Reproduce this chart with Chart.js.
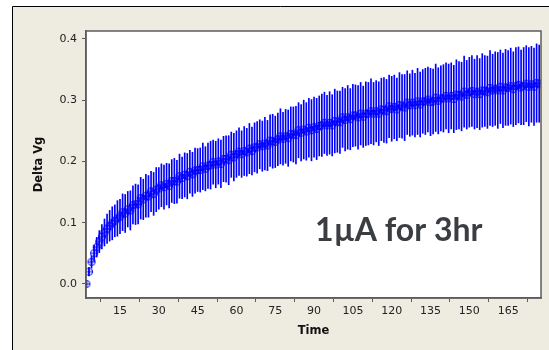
<!DOCTYPE html>
<html>
<head>
<meta charset="utf-8">
<script src="https://cdn.jsdelivr.net/npm/chart.js@4/dist/chart.umd.min.js"></script>
<style>
  html, body { margin: 0; padding: 0; background: #ffffff; }
  #wrap { position: relative; width: 549px; height: 350px; }
</style>
</head>
<body>
<div id="wrap"><canvas id="chartVg" width="549" height="350"></canvas></div>
<script>
// ── DATA ─────────────────────────────────────────────────────────
const times = [
  2, 3, 4, 5, 6, 7, 8, 9, 10, 11, 12, 13, 14, 15, 16, 17, 18, 19, 20,
  21, 22, 23, 24, 25, 26, 27, 28, 29, 30, 31, 32, 33, 34, 35, 36, 37, 38, 39, 40,
  41, 42, 43, 44, 45, 46, 47, 48, 49, 50, 51, 52, 53, 54, 55, 56, 57, 58, 59, 60,
  61, 62, 63, 64, 65, 66, 67, 68, 69, 70, 71, 72, 73, 74, 75, 76, 77, 78, 79, 80,
  81, 82, 83, 84, 85, 86, 87, 88, 89, 90, 91, 92, 93, 94, 95, 96, 97, 98, 99, 100,
  101, 102, 103, 104, 105, 106, 107, 108, 109, 110, 111, 112, 113, 114, 115, 116, 117, 118, 119, 120,
  121, 122, 123, 124, 125, 126, 127, 128, 129, 130, 131, 132, 133, 134, 135, 136, 137, 138, 139, 140,
  141, 142, 143, 144, 145, 146, 147, 148, 149, 150, 151, 152, 153, 154, 155, 156, 157, 158, 159, 160,
  161, 162, 163, 164, 165, 166, 167, 168, 169, 170, 171, 172, 173, 174, 175, 176, 177
];

// mean Delta Vg per minute
const meanVg = [
  0.000, 0.020, 0.036, 0.050,
  0.060, 0.069, 0.077, 0.084, 0.090,
  0.095, 0.099, 0.103, 0.107, 0.110,
  0.117, 0.115, 0.122, 0.120, 0.129,
  0.130, 0.130, 0.140, 0.138, 0.144, 0.143, 0.151, 0.147, 0.154, 0.156,
  0.161, 0.158, 0.163, 0.160, 0.168, 0.168, 0.167, 0.176, 0.173, 0.178, 0.176, 0.183, 0.179, 0.185, 0.186,
  0.186, 0.192, 0.188, 0.193, 0.194, 0.199, 0.195, 0.200, 0.196, 0.204, 0.204, 0.202, 0.211, 0.207, 0.212,
  0.216, 0.212, 0.217, 0.215, 0.221, 0.217, 0.223, 0.223, 0.228, 0.225, 0.229, 0.226, 0.234, 0.233, 0.232,
  0.236, 0.241, 0.237, 0.241, 0.238, 0.245, 0.244, 0.243, 0.251, 0.247, 0.252, 0.249, 0.255, 0.251, 0.256,
  0.253, 0.258, 0.259, 0.263, 0.259, 0.263, 0.259, 0.266, 0.265, 0.264, 0.272, 0.268, 0.272, 0.269, 0.275,
  0.275, 0.272, 0.278, 0.273, 0.278, 0.278, 0.282, 0.278, 0.282, 0.278, 0.285, 0.284, 0.282, 0.290, 0.286,
  0.289, 0.285, 0.292, 0.290, 0.288, 0.296, 0.292, 0.296, 0.292, 0.298, 0.293, 0.298, 0.298, 0.301, 0.297,
  0.298, 0.304, 0.299, 0.303, 0.303, 0.307, 0.303, 0.307, 0.302, 0.309, 0.308, 0.306, 0.314, 0.309, 0.313,
  0.315, 0.310, 0.314, 0.310, 0.316, 0.315, 0.313, 0.320, 0.316, 0.319, 0.316, 0.322, 0.316, 0.321, 0.320,
  0.323, 0.318, 0.323, 0.325, 0.321, 0.323, 0.327, 0.322, 0.326, 0.322, 0.328, 0.327
];

// half-width of the error bar per minute
const errVg = [
  0.004, 0.007, 0.010, 0.013,
  0.016, 0.018, 0.020, 0.022, 0.024,
  0.025, 0.027, 0.026, 0.029, 0.028,
  0.030, 0.031, 0.029, 0.032, 0.031,
  0.033, 0.032, 0.034, 0.033, 0.035, 0.034, 0.033, 0.035, 0.036, 0.034,
  0.035, 0.036, 0.034, 0.036, 0.035, 0.037, 0.035, 0.036, 0.034, 0.036, 0.037, 0.035, 0.036, 0.037, 0.035,
  0.036, 0.038, 0.036, 0.037, 0.039, 0.036, 0.038, 0.037, 0.039, 0.037, 0.038, 0.040, 0.037, 0.039, 0.038,
  0.039, 0.038, 0.040, 0.039, 0.041, 0.039, 0.040, 0.042, 0.040, 0.041, 0.043, 0.041, 0.042, 0.044, 0.042,
  0.043, 0.045, 0.043, 0.044, 0.046, 0.044, 0.045, 0.047, 0.045, 0.046, 0.048, 0.047, 0.048, 0.050, 0.049,
  0.050, 0.049, 0.051, 0.050, 0.049, 0.051, 0.050, 0.052, 0.050, 0.051, 0.049, 0.051, 0.052, 0.050, 0.051,
  0.050, 0.052, 0.051, 0.050, 0.052, 0.051, 0.053, 0.051, 0.050, 0.052, 0.051, 0.053, 0.052, 0.051, 0.053,
  0.052, 0.051, 0.053, 0.052, 0.054, 0.052, 0.051, 0.053, 0.052, 0.054, 0.053, 0.052, 0.054, 0.053, 0.055,
  0.053, 0.055, 0.054, 0.053, 0.055, 0.054, 0.056, 0.054, 0.055, 0.057, 0.055, 0.056, 0.058, 0.056, 0.057,
  0.058, 0.057, 0.059, 0.058, 0.060, 0.058, 0.059, 0.061, 0.059, 0.060, 0.062, 0.060, 0.061, 0.062, 0.061,
  0.062, 0.061, 0.063, 0.062, 0.061, 0.063, 0.062, 0.064, 0.062, 0.063, 0.064, 0.063
];

const xTicks = [15, 30, 45, 60, 75, 90, 105, 120, 135, 150, 165];
const yTicks = [0.0, 0.1, 0.2, 0.3, 0.4];

// ── STYLE ────────────────────────────────────────────────────────
const BLUE   = "#0000ff";
const FRAME  = "#eeebe1";
const AXIS   = "#5c5c5c";
const tickFont  = { family: "'DejaVu Sans', sans-serif", size: 11 };
const titleFont = { family: "'DejaVu Sans', sans-serif", size: 11.5, weight: "bold" };

// circle-with-plus marker (Minitab style)
const marker = document.createElement("canvas");
marker.width = 10; marker.height = 10;
(function () {
  const m = marker.getContext("2d");
  m.strokeStyle = BLUE;
  m.lineWidth = 1;
  m.beginPath(); m.arc(5, 5, 3.6, 0, Math.PI * 2); m.stroke();
  m.beginPath();
  m.moveTo(1, 5); m.lineTo(9, 5);
  m.moveTo(5, 1); m.lineTo(5, 9);
  m.stroke();
})();

const barData   = times.map((t, i) => ({ x: t, y: [meanVg[i] - errVg[i], meanVg[i] + errVg[i]] }));
const pointData = times.map((t, i) => ({ x: t, y: meanVg[i] }));

// background frame + plot rectangle + annotation
const framePlugin = {
  id: "frame",
  beforeDraw(chart) {
    const { ctx, width, height, chartArea: a } = chart;
    ctx.save();
    ctx.fillStyle = "#ffffff";
    ctx.fillRect(0, 0, width, height);
    ctx.fillStyle = FRAME;
    ctx.fillRect(12, 6, width - 12, height - 6);
    ctx.strokeStyle = "#000000";
    ctx.lineWidth = 1;
    ctx.beginPath();
    ctx.moveTo(12.5, height); ctx.lineTo(12.5, 6.5); ctx.lineTo(width, 6.5);
    ctx.stroke();
    ctx.fillStyle = "#ffffff";
    ctx.fillRect(a.left, a.top, a.right - a.left, a.bottom - a.top);
    ctx.restore();
  },
  afterDraw(chart) {
    const { ctx, chartArea: a, scales } = chart;
    ctx.save();
    ctx.strokeStyle = AXIS;
    ctx.lineWidth = 1.5;
    ctx.strokeRect(a.left, a.top, a.right - a.left, a.bottom - a.top);
    ctx.fillStyle = "#3a3d42";
    ctx.font = "bold 32px Lato, 'Open Sans', sans-serif";
    ctx.textBaseline = "alphabetic";
    ctx.fillText("1µA for 3hr", scales.x.getPixelForValue(90.4), scales.y.getPixelForValue(0.07));
    ctx.restore();
  },
};

new Chart(document.getElementById("chartVg"), {
  type: "bar",
  data: {
    datasets: [
      {
        type: "scatter",
        data: pointData,
        pointStyle: marker,
        pointRadius: 3.5,
        order: 0,
      },
      {
        type: "bar",
        data: barData,
        backgroundColor: BLUE,
        borderWidth: 0,
        barThickness: 1,
        grouped: false,
        order: 1,
      },
    ],
  },
  options: {
    responsive: false,
    animation: false,
    layout: { padding: { top: 31, right: 8, left: 0, bottom: 0 } },
    plugins: { legend: { display: false }, tooltip: { enabled: false } },
    scales: {
      x: {
        type: "linear",
        min: 1.86,
        max: 177.7,
        offset: false,
        afterFit: s => { s.height = 52; },
        afterBuildTicks: s => { s.ticks = xTicks.map(v => ({ value: v })); },
        grid: { drawOnChartArea: false, drawTicks: true, tickLength: 4, color: AXIS },
        border: { display: true, color: AXIS, width: 1.5 },
        ticks: { color: "#222", font: tickFont, padding: 3, maxRotation: 0, autoSkip: false },
        title: { display: true, text: "Time", color: "#111", font: titleFont, padding: { top: 0, bottom: 12 } },
      },
      y: {
        type: "linear",
        min: -0.023,
        max: 0.413,
        afterFit: s => { s.width = 86; },
        afterBuildTicks: s => { s.ticks = yTicks.map(v => ({ value: v })); },
        grid: { drawOnChartArea: false, drawTicks: true, tickLength: 4, color: AXIS },
        border: { display: true, color: AXIS, width: 1.5 },
        ticks: { color: "#222", font: tickFont, padding: 5, callback: v => v.toFixed(1) },
        title: { display: true, text: "Delta Vg", color: "#111", font: titleFont, padding: { top: 32, bottom: 0 } },
      },
    },
  },
  plugins: [framePlugin],
});
</script>
</body>
</html>
